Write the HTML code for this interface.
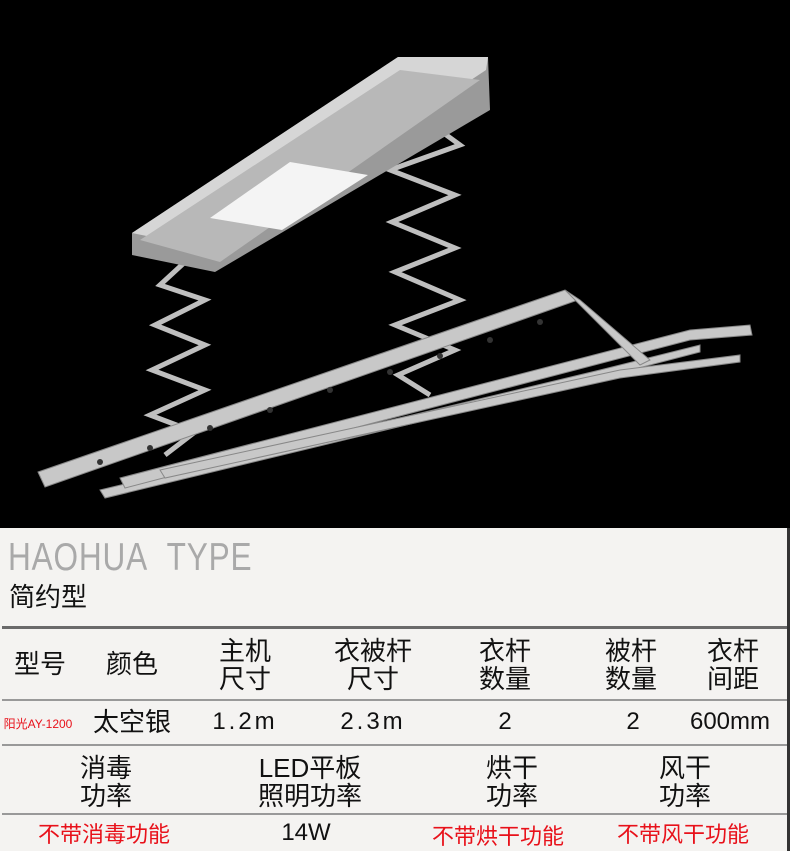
<!DOCTYPE html>
<html><head><meta charset="utf-8"><style>
body{margin:0;width:790px;height:851px;overflow:hidden;background:#f4f3f1;position:relative;font-family:"Liberation Sans","Noto Sans CJK SC",sans-serif}
.t{position:absolute;transform:translateX(-50%);white-space:nowrap;color:#111;font-size:26px;line-height:28px;text-align:center}
.r{color:#e8111a;font-size:22px}
.hl{position:absolute;left:2px;right:2px;height:3px;background:#6a6a6a}
</style></head><body>
<svg width="790" height="528" style="position:absolute;left:0;top:0;display:block">
<rect width="790" height="528" fill="#000"/>
<g fill="none" stroke="#bfbfbf" stroke-width="5">
<polyline points="185,262 160,285 205,300 155,325 205,345 152,370 205,390 150,415 195,432 165,455"/>
<polyline points="412,110 460,145 390,170 455,195 392,222 455,248 395,272 460,300 395,325 455,350 398,375 430,395"/>
</g>
<polygon points="132,233 398,57 488,57 490,110 215,272 132,255" fill="#9a9a9a"/>
<polygon points="132,233 398,57 488,57 486,70 215,250" fill="#d6d6d6"/>
<polygon points="140,240 400,70 480,80 220,262" fill="#b8b8b8"/>
<polygon points="210,218 290,162 368,175 282,230" fill="#f4f4f4"/>
<g fill="#c8c8c8" stroke="#888" stroke-width="1">
<polygon points="38,472 565,290 578,300 45,487"/>
<polygon points="100,490 600,370 700,345 700,352 600,378 105,498"/>
<polygon points="120,478 690,330 750,325 752,335 690,340 125,488"/>
<polygon points="160,470 620,370 740,355 740,362 620,378 165,478"/>
<polygon points="565,290 580,300 650,360 640,365"/>
</g>
<g fill="#333">
<circle cx="540" cy="322" r="3"/><circle cx="490" cy="340" r="3"/><circle cx="440" cy="356" r="3"/><circle cx="390" cy="372" r="3"/><circle cx="330" cy="390" r="3"/><circle cx="270" cy="410" r="3"/><circle cx="210" cy="428" r="3"/><circle cx="150" cy="448" r="3"/><circle cx="100" cy="462" r="3"/>
</g>
</svg>
<div style="position:absolute;left:8px;top:536px;font-size:39px;color:#a9a9a9;letter-spacing:1px;line-height:44px;transform:scaleX(0.81);transform-origin:0 0;white-space:nowrap">HAOHUA&nbsp; TYPE</div>
<div style="position:absolute;left:9px;top:582px;font-size:26px;line-height:30px;color:#111">简约型</div>
<div class="hl" style="top:626px"></div>
<div class="t" style="left:40px;top:650px">型号</div>
<div class="t" style="left:132px;top:650px">颜色</div>
<div class="t" style="left:245px;top:637px">主机<br>尺寸</div>
<div class="t" style="left:373px;top:637px">衣被杆<br>尺寸</div>
<div class="t" style="left:505px;top:637px">衣杆<br>数量</div>
<div class="t" style="left:631px;top:637px">被杆<br>数量</div>
<div class="t" style="left:733px;top:637px">衣杆<br>间距</div>
<div class="hl" style="top:699px;height:2px;background:#999"></div>
<div class="t" style="left:38px;top:710px;font-size:12px;color:#e8111a">阳光AY-1200</div>
<div class="t" style="left:132px;top:708px">太空银</div>
<div class="t" style="left:245px;top:708px;font-size:24px;letter-spacing:3px">1.2m</div>
<div class="t" style="left:373px;top:708px;font-size:24px;letter-spacing:3px">2.3m</div>
<div class="t" style="left:505px;top:708px;font-size:24px">2</div>
<div class="t" style="left:633px;top:708px;font-size:24px">2</div>
<div class="t" style="left:730px;top:708px;font-size:24px">600mm</div>
<div class="hl" style="top:744px;height:2px;background:#999"></div>
<div class="t" style="left:106px;top:754px">消毒<br>功率</div>
<div class="t" style="left:310px;top:754px">LED平板<br>照明功率</div>
<div class="t" style="left:512px;top:754px">烘干<br>功率</div>
<div class="t" style="left:685px;top:754px">风干<br>功率</div>
<div class="hl" style="top:813px;height:2px;background:#999"></div>
<div class="t r" style="left:104px;top:821px">不带消毒功能</div>
<div class="t" style="left:306px;top:819px;font-size:24px">14W</div>
<div class="t r" style="left:498px;top:823px">不带烘干功能</div>
<div class="t r" style="left:683px;top:821px">不带风干功能</div>
<div style="position:absolute;left:787px;top:528px;width:3px;height:323px;background:#333"></div>
</body></html>
